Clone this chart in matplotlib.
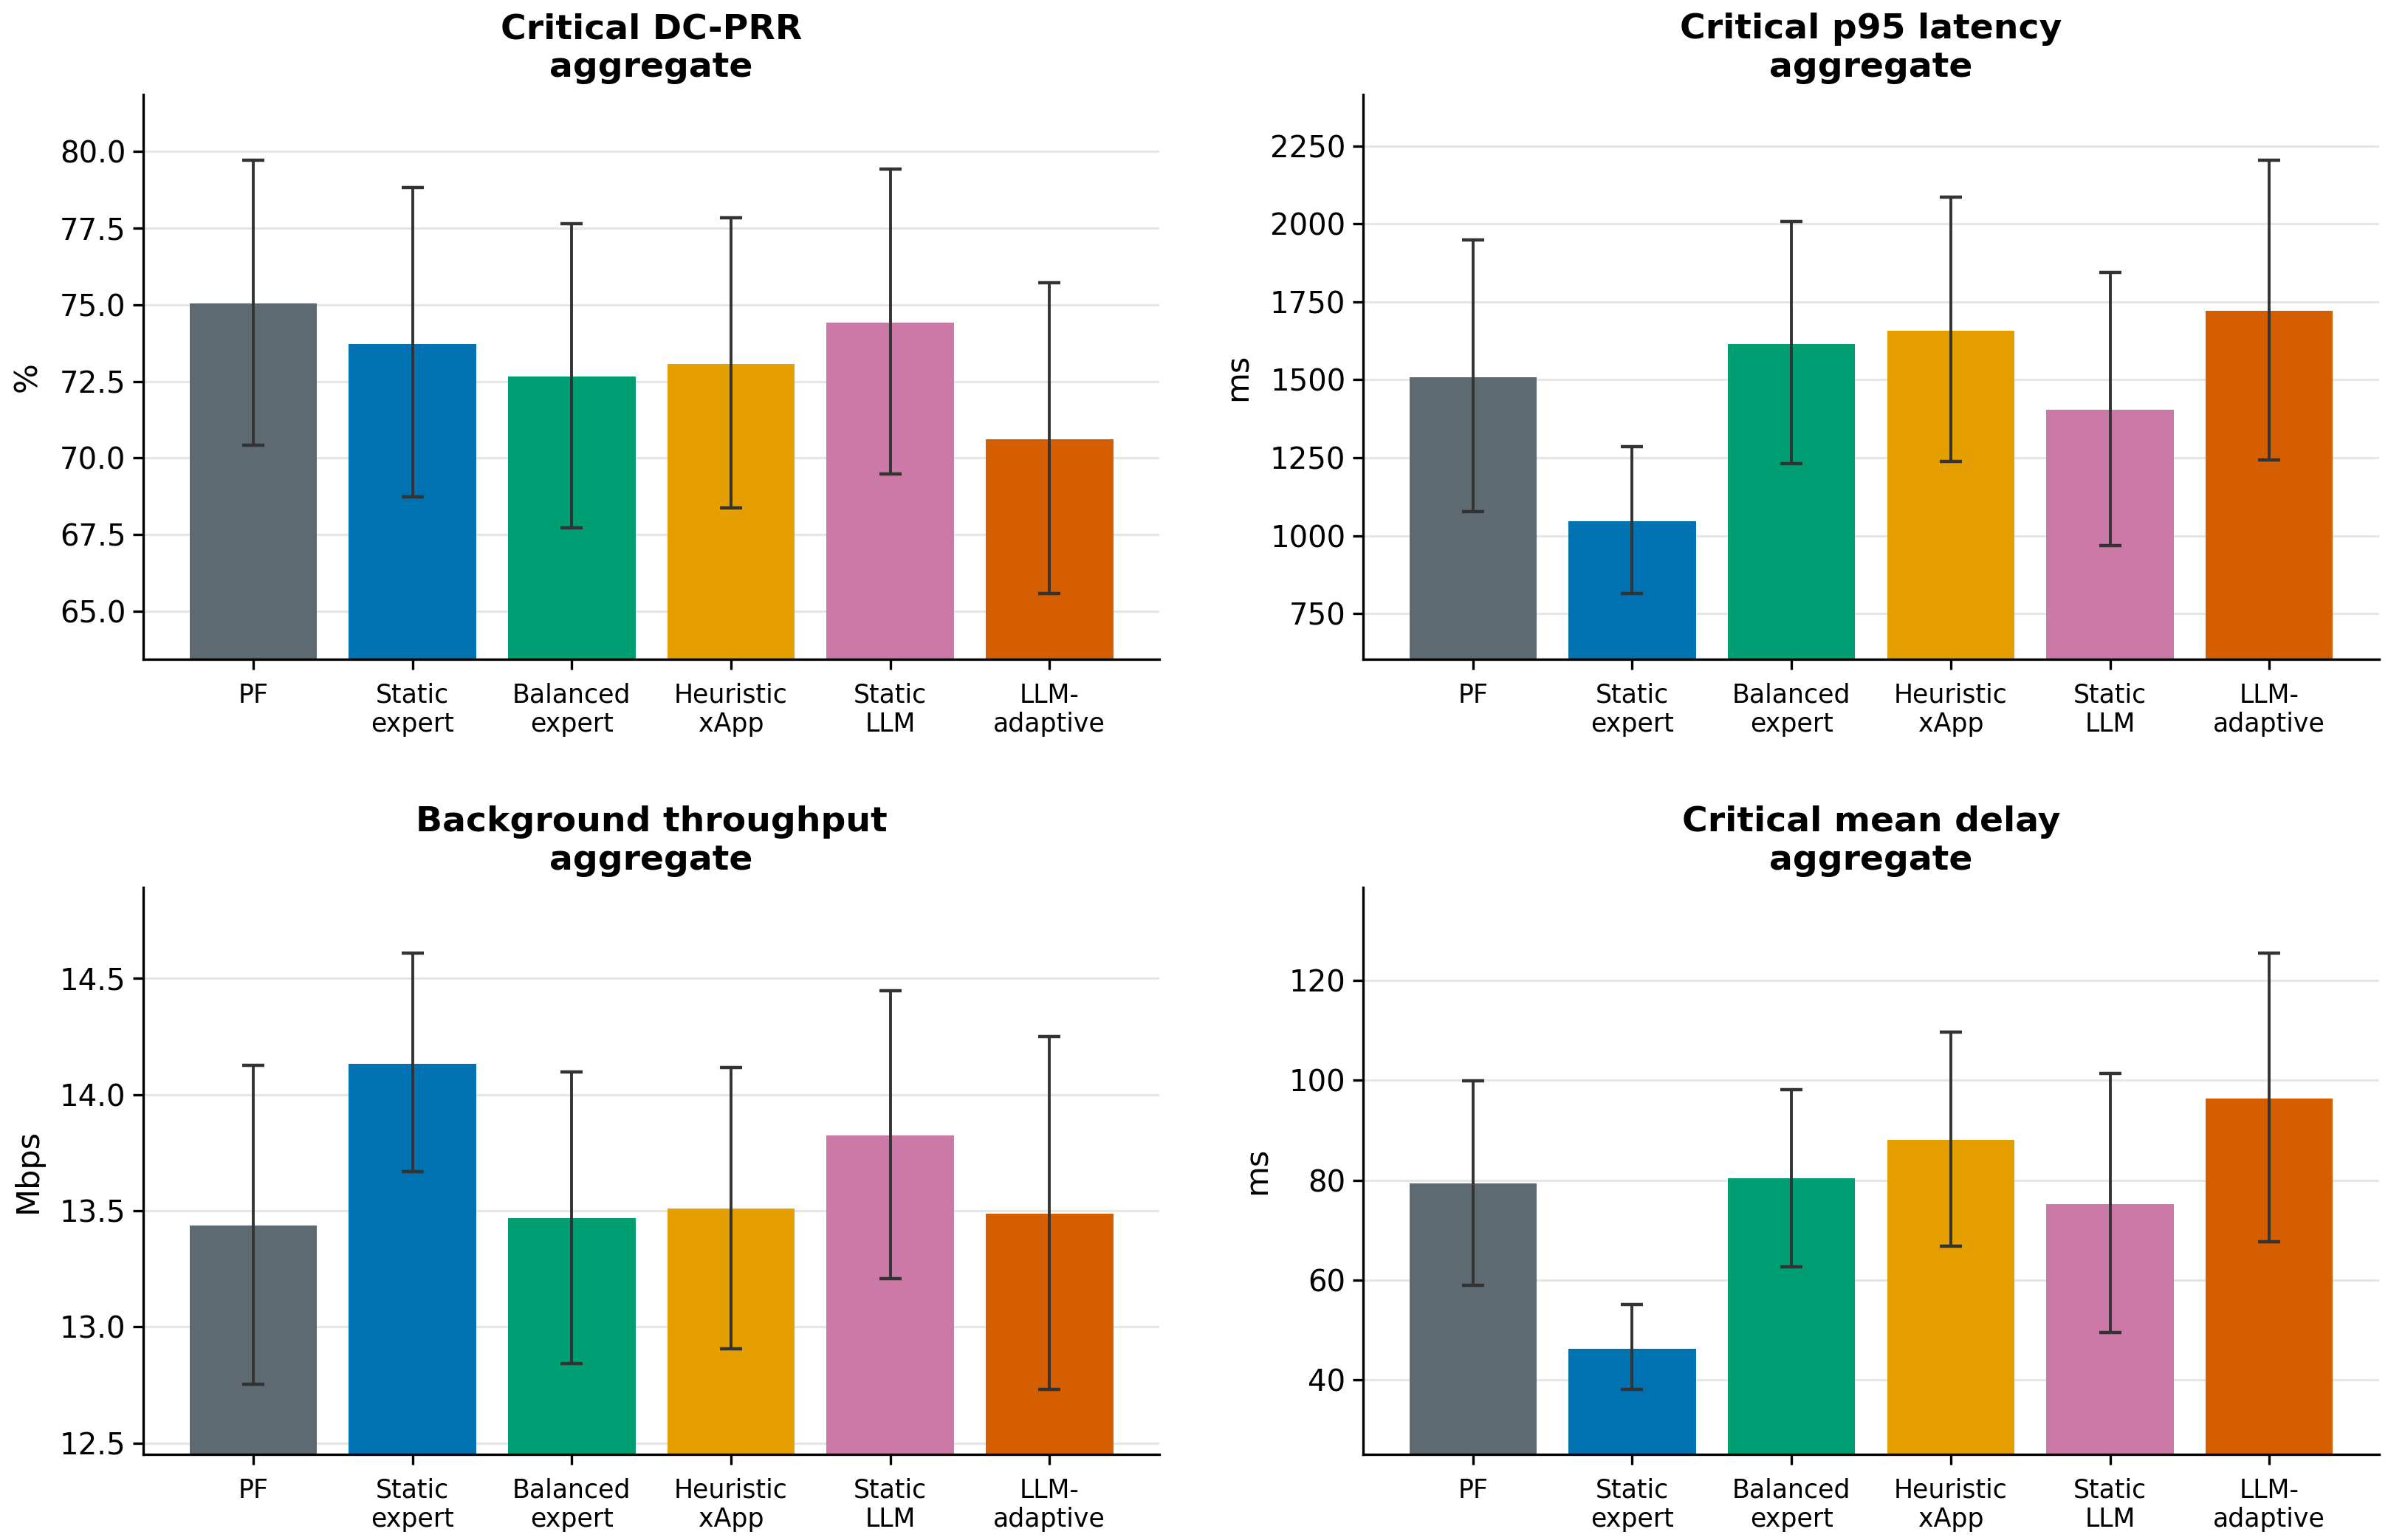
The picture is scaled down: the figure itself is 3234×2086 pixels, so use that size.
"""Aggregate scheduler comparison: four metrics, mean with error bars."""

import matplotlib

matplotlib.use("Agg")
import matplotlib.pyplot as plt
import numpy as np

# x categories (shared by all panels)
schedulers = ["PF", "Static\nexpert", "Balanced\nexpert", "Heuristic\nxApp", "Static\nLLM", "LLM-\nadaptive"]
colors = ["#5d6a72", "#0072b2", "#009e73", "#e69f00", "#cc79a7", "#d55e00"]

# Critical DC-PRR (%)
prr_mean = [75.05, 73.73, 72.65, 73.08, 74.43, 70.61]
prr_lo = [70.42, 68.73, 67.73, 68.37, 69.49, 65.59]
prr_hi = [79.72, 78.82, 77.65, 77.84, 79.42, 75.71]

# Critical p95 latency (ms)
p95_mean = [1509, 1046, 1615, 1658, 1404, 1721]
p95_lo = [1076, 815, 1232, 1239, 968, 1244]
p95_hi = [1948, 1286, 2008, 2086, 1845, 2205]

# Background throughput (Mbps)
tput_mean = [13.437, 14.133, 13.468, 13.508, 13.824, 13.486]
tput_lo = [12.753, 13.668, 12.842, 12.906, 13.207, 12.731]
tput_hi = [14.127, 14.607, 14.098, 14.116, 14.445, 14.250]

# Critical mean delay (ms)
delay_mean = [79.3, 46.3, 80.3, 88.0, 75.2, 96.3]
delay_lo = [59.0, 38.1, 62.7, 66.8, 49.5, 67.7]
delay_hi = [99.9, 55.1, 98.1, 109.7, 101.3, 125.4]

panels = [
    ("Critical DC-PRR\naggregate", "%", prr_mean, prr_lo, prr_hi, (63.44, 81.86)),
    ("Critical p95 latency\naggregate", "ms", p95_mean, p95_lo, p95_hi, (604, 2415)),
    ("Background throughput\naggregate", "Mbps", tput_mean, tput_lo, tput_hi, (12.452, 14.891)),
    ("Critical mean delay\naggregate", "ms", delay_mean, delay_lo, delay_hi, (25.1, 138.6)),
]

# axes rectangles [left, bottom, width, height] in figure fractions
positions = [
    [0.060, 0.572, 0.4255, 0.3666],
    [0.5708, 0.572, 0.4255, 0.3666],
    [0.060, 0.0556, 0.4255, 0.3682],
    [0.5708, 0.0556, 0.4255, 0.3682],
]

fig = plt.figure(figsize=(16.17, 10.43), dpi=200)

for (title, ylabel, mean, lo, hi, ylim), pos in zip(panels, positions):
    ax = fig.add_axes(pos)
    x = np.arange(len(schedulers))
    mean = np.asarray(mean, dtype=float)
    yerr = np.vstack([mean - np.asarray(lo), np.asarray(hi) - mean])
    ax.bar(x, mean, width=0.8, color=colors, zorder=2)
    ax.errorbar(x, mean, yerr=yerr, fmt="none", ecolor="#333333",
                elinewidth=1.4, capsize=5.5, capthick=1.6, zorder=3)
    ax.set_ylim(*ylim)
    ax.set_xticks(x)
    ax.set_xticklabels(schedulers, fontsize=12.5)
    ax.tick_params(axis="y", labelsize=14.5, length=5, width=1.2)
    ax.tick_params(axis="x", length=5, width=1.2, pad=6.5)
    ax.set_ylabel(ylabel, fontsize=15.5, labelpad=8)
    ax.set_title(title, fontsize=17, fontweight="bold", pad=8.5)
    ax.grid(axis="y", color="#e6e6e6", linewidth=1.1, zorder=0)
    ax.set_axisbelow(True)
    for side in ("top", "right"):
        ax.spines[side].set_visible(False)
    for side in ("left", "bottom"):
        ax.spines[side].set_linewidth(1.2)

fig.savefig("out.png", dpi=200)
